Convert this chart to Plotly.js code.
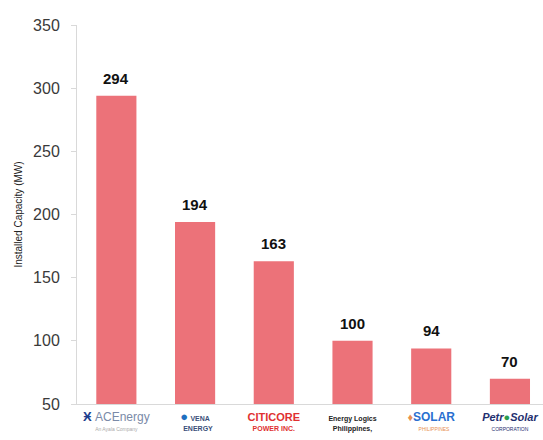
<!DOCTYPE html>
<html>
<head>
<meta charset="utf-8">
<script src="https://cdn.plot.ly/plotly-3.0.1.min.js"></script>
<style>html,body{margin:0;padding:0;background:#fff;}#chart{width:543px;height:440px;}</style>
</head>
<body>
<div id="chart"></div>
<script>
var categories = ["ACEnergy", "Vena Energy", "Citicore Power Inc.", "Energy Logics Philippines", "Solar Philippines", "PetroSolar Corporation"];
var capacity = [294, 194, 163, 100, 94, 70];
var tickLabels = [
  "<span style='color:#1f3f8f;font-size:13px'><b>Ӿ</b></span><span style='color:#7a8aa8;font-size:12px'> ACEnergy</span><br><span style='color:#aaa;font-size:5px'>An Ayala Company</span>",
  "<span style='color:#1e6fc0;font-size:13px'>●</span> <span style='color:#3a4f7a;font-size:7px'><b>VENA<br>   ENERGY</b></span>",
  "<span style='color:#e03030;font-size:11px'><b>CITICORE</b></span><br><span style='color:#e03030;font-size:7px'><b>POWER INC.</b></span>",
  "<span style='color:#222;font-size:7px'><b>Energy Logics<br>Philippines,</b></span>",
  "<span style='color:#e89050;font-size:11px'>♦</span><span style='color:#2a6fd0;font-size:12px'><b>SOLAR</b></span><br><span style='color:#e89050;font-size:5px'>    PHILIPPINES</span>",
  "<span style='color:#1f2f6f;font-size:11px'><b><i>Petr</i></b></span><span style='color:#2a9d4f;font-size:11px'><b>●</b></span><span style='color:#1f2f6f;font-size:11px'><b><i>Solar</i></b></span><br><span style='color:#1f2f6f;font-size:5px'>CORPORATION</span>"
];

var trace = {
  type: "bar",
  x: categories,
  y: capacity,
  marker: {color: "#EC7279"},
  width: 0.51,
  hoverinfo: "skip"
};

var annotations = categories.map(function (c, i) {
  return {
    x: c, y: capacity[i], text: "<b>" + capacity[i] + "</b>",
    showarrow: false, yanchor: "bottom", yshift: 7,
    font: {family: "Liberation Sans, Arial, sans-serif", size: 15, color: "#111"}
  };
});

var layout = {
  width: 543, height: 440,
  margin: {l: 77, r: 0, t: 25, b: 36},
  paper_bgcolor: "#fff", plot_bgcolor: "#fff",
  showlegend: false,
  font: {family: "Liberation Sans, Arial, sans-serif"},
  xaxis: {
    type: "category",
    range: [-0.5, 5.42],
    tickvals: categories,
    ticktext: tickLabels,
    showgrid: false, zeroline: false,
    showline: true, linecolor: "#d9d9d9", linewidth: 1,
    ticks: "",
    ticklabelstandoff: 6,
    tickfont: {size: 8},
    automargin: false
  },
  yaxis: {
    range: [50, 350],
    tickvals: [50, 100, 150, 200, 250, 300, 350],
    showgrid: false, zeroline: false,
    showline: true, linecolor: "#d9d9d9", linewidth: 1,
    ticks: "outside", ticklen: 5, tickcolor: "#d9d9d9",
    ticklabelstandoff: 8,
    tickfont: {size: 16, color: "#3a3a3a", family: "Liberation Sans, Arial, sans-serif"},
    title: {text: "Installed Capacity (MW)", font: {size: 10, color: "#222"}, standoff: 8},
    automargin: false
  },
  bargap: 0.49,
  annotations: annotations
};

Plotly.newPlot("chart", [trace], layout, {displayModeBar: false, staticPlot: true});
</script>
</body>
</html>
